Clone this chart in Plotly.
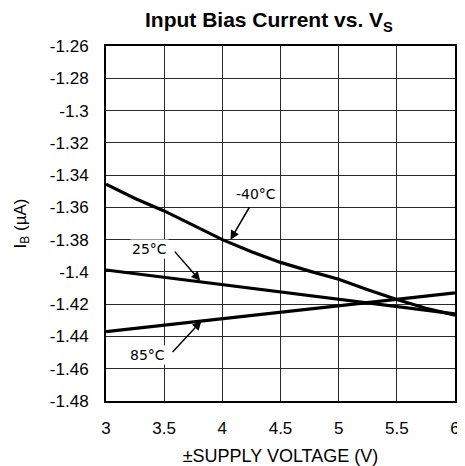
import plotly.graph_objects as go

vs = [3.0, 3.25, 3.5, 3.75, 4.0, 4.25, 4.5, 4.75, 5.0, 5.25, 5.5, 5.75, 6.0]
ib_m40 = [-1.3456, -1.3545, -1.3622, -1.3710, -1.3800, -1.3875, -1.3941, -1.3995,
          -1.4046, -1.4110, -1.4171, -1.4225, -1.4268]
vs_lin = [3.0, 6.0]
ib_25 = [-1.3988, -1.4260]
ib_85 = [-1.4370, -1.4130]

x_ticks = [3, 3.5, 4, 4.5, 5, 5.5, 6]
x_tick_text = ["3", "3.5", "4", "4.5", "5", "5.5", "6"]
y_ticks = [-1.26, -1.28, -1.30, -1.32, -1.34, -1.36, -1.38, -1.40, -1.42, -1.44, -1.46, -1.48]
y_tick_text = ["-1.26", "-1.28", "-1.3", "-1.32", "-1.34", "-1.36", "-1.38", "-1.4",
               "-1.42", "-1.44", "-1.46", "-1.48"]

labels = ["-40°C", "25°C", "85°C"]
label_pos = [(4.29, -1.3515), (3.37, -1.3855), (3.36, -1.4515)]
arrow_tail = [(4.24, -1.3590), (3.58, -1.3865), (3.56, -1.4505)]
arrow_head = [(4.07, -1.3800), (3.81, -1.4055), (3.82, -1.4305)]

fig = go.Figure()
line_style = dict(color="black", width=3.2)
fig.add_trace(go.Scatter(x=vs, y=ib_m40, mode="lines", line=line_style))
fig.add_trace(go.Scatter(x=vs_lin, y=ib_25, mode="lines", line=line_style))
fig.add_trace(go.Scatter(x=vs_lin, y=ib_85, mode="lines", line=line_style))

for lab, (lx, ly) in zip(labels, label_pos):
    fig.add_annotation(x=lx, y=ly, xref="x", yref="y", text=lab, showarrow=False,
                       font=dict(family="DejaVu Sans", size=14, color="black"),
                       bgcolor="white")
for (tx, ty), (hx, hy) in zip(arrow_tail, arrow_head):
    fig.add_annotation(x=hx, y=hy, ax=tx, ay=ty, xref="x", yref="y",
                       axref="x", ayref="y", text="", showarrow=True,
                       arrowhead=2, arrowsize=1.2, arrowwidth=1.5, arrowcolor="black")

fig.update_layout(
    width=457, height=458,
    margin=dict(l=98, r=10, t=38, b=65),
    paper_bgcolor="white", plot_bgcolor="white",
    showlegend=False,
    font=dict(family="Liberation Sans, Arial", size=17, color="black"),
    title=dict(text="<b>Input Bias Current vs. V<sub>S</sub></b>",
               x=0.571, xanchor="center", y=0.974, yanchor="middle",
               font=dict(size=21, family="Liberation Sans, Arial")),
    xaxis=dict(range=[3, 6], tickvals=x_ticks, ticktext=x_tick_text,
               showgrid=True, gridcolor="#2a2a2a", gridwidth=1.3,
               showline=True, linecolor="black", linewidth=2, mirror=True,
               ticks="", zeroline=False, ticklabelstandoff=11,
               ticklabeloverflow="allow", automargin=False,
               title=dict(text="±SUPPLY VOLTAGE (V)", standoff=15,
                          font=dict(size=18))),
    yaxis=dict(range=[-1.48, -1.26], tickvals=y_ticks, ticktext=y_tick_text,
               showgrid=True, gridcolor="#2a2a2a", gridwidth=1.3,
               showline=True, linecolor="black", linewidth=2, mirror=True,
               ticks="", zeroline=False, ticklabelstandoff=12, automargin=False,
               title=dict(text="I<sub>B</sub> (µA)", standoff=19,
                          font=dict(size=17))),
)

fig.write_html("out.html")
